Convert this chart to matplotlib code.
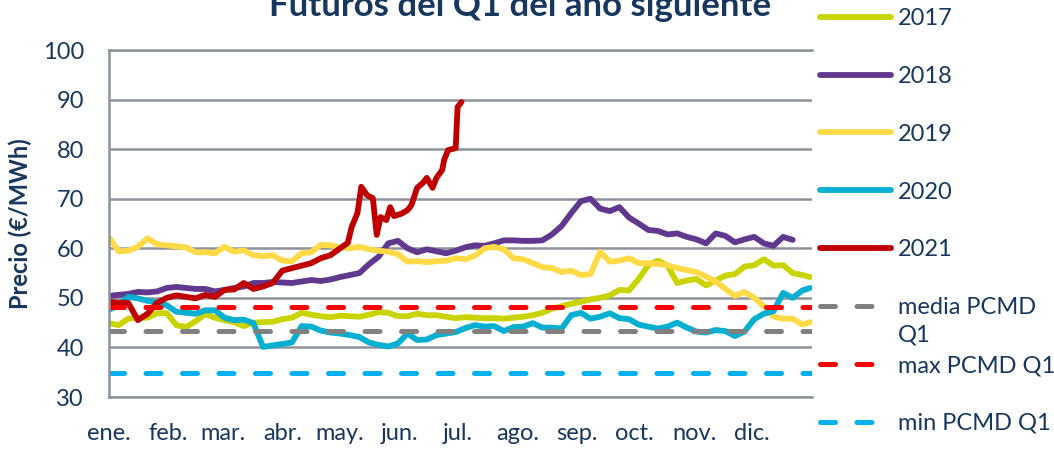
import numpy as np
import matplotlib
matplotlib.use("Agg")
import matplotlib.pyplot as plt

# ---------------------------------------------------------------------------
# Data (EUR/MWh)
# ---------------------------------------------------------------------------

meses = ["ene.", "feb.", "mar.", "abr.", "may.", "jun.",
         "jul.", "ago.", "sep.", "oct.", "nov.", "dic."]
inicio_mes = [0, 31, 59, 90, 120, 151, 181, 212, 243, 273, 304, 334]

# day of year for the 2017-2020 samples
dias = [0, 5, 10, 15, 20, 25, 30, 35, 40, 45,
        50, 55, 60, 65, 70, 75, 80, 85, 90, 95,
        100, 105, 110, 115, 120, 125, 130, 135, 140, 145,
        150, 155, 160, 165, 170, 175, 180, 185, 190, 195,
        200, 205, 210, 215, 220, 225, 230, 235, 240, 245,
        250, 255, 260, 265, 270, 275, 280, 285, 290, 295,
        300, 305, 310, 315, 320, 325, 330, 335, 340, 345,
        350, 355, 360, 364]

q1_2017 = [44.9, 44.5, 45.8, 46.0, 46.0, 46.9, 46.9, 44.5, 44.1, 45.3,
           46.7, 46.0, 45.5, 45.1, 44.3, 45.0, 45.1, 45.2, 45.7, 46.0,
           47.0, 46.6, 46.3, 46.1, 46.4, 46.3, 46.2, 46.6, 47.1, 47.0,
           46.3, 46.3, 46.8, 46.5, 46.5, 46.2, 45.9, 46.1, 46.0, 45.9,
           45.9, 45.8, 46.0, 46.2, 46.5, 47.0, 47.8, 48.3, 48.8, 49.2,
           49.7, 50.0, 50.5, 51.6, 51.5, 53.8, 56.6, 57.5, 56.5, 53.0,
           53.5, 53.8, 52.5, 53.5, 54.5, 54.8, 56.3, 56.6, 57.8, 56.5,
           56.6, 55.0, 54.6, 54.2]

q1_2018 = [50.4, 50.6, 50.8, 51.2, 51.1, 51.3, 52.0, 52.2, 52.0, 51.8,
           51.8, 51.3, 51.6, 52.0, 52.3, 53.0, 53.0, 53.2, 53.1, 53.0,
           53.3, 53.6, 53.4, 53.7, 54.2, 54.6, 55.0, 56.8, 58.3, 61.0,
           61.5, 60.0, 59.2, 59.8, 59.4, 59.0, 59.5, 60.2, 60.6, 60.5,
           61.0, 61.6, 61.6, 61.5, 61.5, 61.6, 62.8, 64.5, 67.1, 69.5,
           70.0, 68.0, 67.5, 68.3, 66.2, 65.0, 63.7, 63.5, 62.8, 63.0,
           62.3, 61.8, 61.0, 63.0, 62.5, 61.2, 61.8, 62.3, 61.0, 60.5,
           62.3, 61.7]

q1_2019 = [62.2, 59.4, 59.5, 60.3, 62.0, 60.8, 60.6, 60.4, 60.2, 59.2,
           59.2, 59.0, 60.3, 59.3, 59.6, 58.6, 58.4, 58.6, 57.5, 57.4,
           59.0, 59.2, 60.7, 60.6, 60.2, 60.0, 60.3, 59.8, 59.5, 59.3,
           58.8, 57.3, 57.4, 57.2, 57.4, 57.5, 58.0, 57.8, 58.5, 60.0,
           60.3, 59.8, 58.0, 57.8, 57.0, 56.2, 56.0, 55.2, 55.5, 54.6,
           54.8, 59.3, 57.3, 57.5, 58.0, 57.0, 57.0, 56.8, 56.6, 56.0,
           55.6, 55.2, 54.3, 53.3, 51.8, 50.4, 51.2, 50.0, 48.3, 46.2,
           45.8, 45.8, 44.6, 45.1]

q1_2020 = [47.6, 48.5, 50.2, 49.9, 49.4, 49.0, 48.5, 47.2, 47.0, 46.8,
           47.5, 47.5, 46.0, 45.5, 45.6, 44.9, 40.1, 40.4, 40.7, 41.0,
           44.3, 44.2, 43.4, 43.0, 42.8, 42.5, 42.1, 41.0, 40.5, 40.2,
           40.8, 42.8, 41.5, 41.6, 42.5, 42.8, 43.1, 43.9, 44.5, 44.2,
           44.3, 43.3, 44.1, 44.2, 44.9, 44.0, 44.0, 43.8, 46.5, 47.0,
           45.8, 46.2, 46.9, 45.9, 45.7, 44.6, 44.2, 43.8, 44.2, 45.0,
           44.0, 43.2, 43.0, 43.5, 43.3, 42.3, 43.2, 45.7, 46.8, 47.3,
           51.0, 50.0, 51.5, 52.0]

dias_2021 = [0, 5, 10, 15, 20, 25, 30, 35, 40, 45,
             50, 55, 60, 65, 70, 75, 80, 85, 90, 95,
             100, 105, 110, 115, 120, 124, 126, 129, 131, 134,
             137, 139, 141, 144, 146, 148, 152, 155, 157, 160,
             163, 165, 168, 170, 173, 174, 176, 180, 181, 183]
q1_2021 = [49.2, 49.0, 49.0, 45.5, 46.8, 49.0, 50.0, 50.5, 50.2, 49.9,
           50.6, 50.2, 51.6, 51.7, 53.0, 51.8, 52.3, 53.0, 55.5, 56.0,
           56.5, 57.0, 58.0, 58.6, 60.0, 61.1, 64.3, 67.1, 72.4, 70.7,
           70.1, 62.7, 66.3, 65.7, 68.3, 66.5, 67.0, 67.7, 68.7, 72.2,
           73.2, 74.2, 72.2, 74.2, 75.8, 77.8, 79.8, 80.2, 88.5, 89.5]

media_pcmd_q1 = 43.3
max_pcmd_q1 = 48.2
min_pcmd_q1 = 34.9

# ---------------------------------------------------------------------------
# Style
# ---------------------------------------------------------------------------

NAVY = "#17375E"
GRID = "#8E939B"
plt.rcParams["font.family"] = ["Lato", "DejaVu Sans"]

series = [
    ("2017", dias, q1_2017, "#C9D300"),
    ("2018", dias[:len(q1_2018)], q1_2018, "#60388E"),
    ("2019", dias, q1_2019, "#FFDA47"),
    ("2020", dias, q1_2020, "#05AFD2"),
    ("2021", dias_2021, q1_2021, "#C00000"),
]
referencias = [
    ("media PCMD", media_pcmd_q1, "#808080"),
    ("max PCMD Q1", max_pcmd_q1, "#FF0000"),
    ("min PCMD Q1", min_pcmd_q1, "#00B0F0"),
]

fig = plt.figure(figsize=(10.54, 4.49), dpi=100)
ax = fig.add_axes([0.1034, 0.1158, 0.6670, 0.7728])

for nombre, x, y, color in series:
    ax.plot(x, y, color=color, lw=4.2, label=nombre,
            solid_capstyle="round", solid_joinstyle="round")

for nombre, valor, color in referencias:
    ax.axhline(valor, color=color, lw=3.6, ls=(0, (3, 4.3)),
               dash_capstyle="round", label=nombre)

ax.set_xlim(0, 365)
ax.set_ylim(30, 100)
ax.set_yticks(range(30, 101, 10))
ax.set_xticks(inicio_mes, labels=meses)
ax.tick_params(axis="both", length=0, labelsize=17, colors=NAVY)
ax.tick_params(axis="y", pad=18)
ax.tick_params(axis="x", pad=19)
ax.grid(axis="y", color=GRID, lw=1.8)
ax.set_axisbelow(True)
for lado in ["left", "bottom", "top"]:
    ax.spines[lado].set_color(GRID)
    ax.spines[lado].set_linewidth(1.8)
ax.spines["right"].set_visible(False)

ax.set_ylabel("Precio (€/MWh)", fontsize=17, fontweight="bold",
              color=NAVY, labelpad=8)

fig.text(0.493, 0.964, "Futuros del Q1 del año siguiente", ha="center",
         va="baseline", fontsize=25, fontweight="bold", color=NAVY)

leg = fig.legend(loc="upper left", bbox_to_anchor=(0.778, 0.982),
                 frameon=False, fontsize=17, labelcolor=NAVY,
                 handlelength=3.0, handletextpad=0.3, labelspacing=1.56,
                 borderpad=0, borderaxespad=0)

# Excel wraps the "media PCMD Q1" label onto a second line
fig.canvas.draw()
bb = leg.get_texts()[5].get_window_extent()
fig.text(bb.x0 / fig.bbox.width, (bb.y0 - 6) / fig.bbox.height, "Q1",
         ha="left", va="top", fontsize=17, color=NAVY)

fig.savefig("out.png", dpi=100)
